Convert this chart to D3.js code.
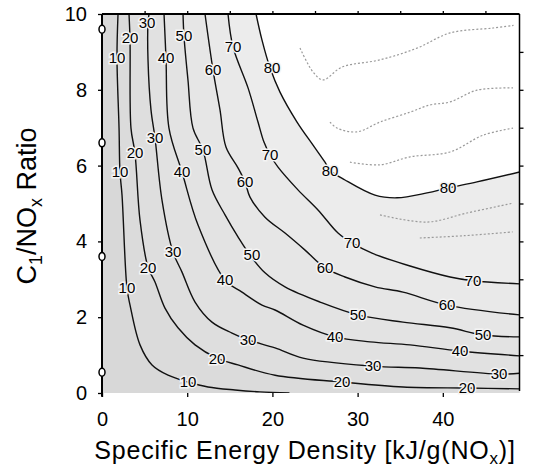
<!DOCTYPE html>
<html>
<head>
<meta charset="utf-8">
<script src="https://cdn.jsdelivr.net/npm/d3@7"></script>
<style>
body { margin: 0; background: #fff; }
svg { font-family: "Liberation Sans", Arial, sans-serif; }
</style>
</head>
<body>
<script>
// contour levels and the points: [energy density, C1/NOx]
var levels = [10, 20, 30, 40, 50, 60, 70, 80];
var line10 = [[1.88,10],[1.76,8.84],[2.0,6.99],[2.11,5.83],[2.35,5.22],[2.93,2.77],[3.29,2.32],[4.46,1.27],[5.87,0.74],[7.75,0.47],[10.09,0.29],[12.44,0.16],[15.61,0.08],[18.54,0.03],[22,0]];
var line20 = [[3.17,10],[3.29,9.31],[3.4,6.99],[3.87,6.33],[4.46,4.56],[5.4,3.32],[6.22,2.93],[7.39,2.24],[8.92,1.72],[10.92,1.27],[13.5,0.92],[15.96,0.74],[20.31,0.47],[28.17,0.29],[35.33,0.16],[42.84,0.13],[49,0.11]];
var line30 = [[5.52,10],[5.4,9.76],[5.4,8.79],[5.75,7.47],[6.22,6.73],[7.04,5.09],[8.33,3.72],[9.39,3.19],[10.92,2.4],[12.91,1.87],[15.26,1.58],[17.14,1.4],[20.31,1.19],[23.59,0.92],[31.81,0.71],[37.32,0.66],[46.6,0.5],[49,0.52]];
var line40 = [[7.28,10],[7.51,8.84],[7.86,6.99],[9.39,5.83],[11.27,4.43],[14.44,2.98],[16.43,2.66],[18.78,2.32],[20.31,2.19],[23.59,1.79],[27.35,1.48],[31.46,1.35],[36.15,1.27],[42.02,1.11],[49,0.98]];
var line50 = [[9.51,10],[9.62,9.42],[10.09,8.26],[10.68,6.99],[11.85,6.41],[12.91,5.36],[14.44,4.7],[15.96,4.12],[17.37,3.64],[19.13,3.17],[21.48,2.8],[25.59,2.4],[30.05,2.06],[35.33,1.87],[40.85,1.72],[44.72,1.53],[49,1.48]];
var line60 = [[12.09,10],[13.03,8.52],[13.85,7.47],[14.55,6.49],[15.96,5.94],[16.78,5.57],[17.37,5.17],[19.13,4.64],[21.48,4.22],[23.83,3.77],[26.17,3.3],[28.52,3.06],[32.04,2.8],[35.33,2.66],[40.49,2.32],[49,2.06]];
var line70 = [[14.79,10],[15.38,9.13],[17.14,8.05],[18.31,7.15],[19.01,6.62],[19.72,6.28],[20.66,5.96],[23.0,5.36],[25.35,4.83],[27.7,4.22],[29.34,3.96],[31.69,3.69],[36.15,3.35],[40.85,3.06],[43.54,2.96],[49,2.88]];
var line80 = [[18.08,10],[18.78,9.31],[19.72,8.58],[20.89,7.94],[22.89,7.15],[24.77,6.54],[26.17,6.09],[26.76,5.88],[28.52,5.62],[32.04,5.22],[34.62,5.15],[38.15,5.28],[40.61,5.41],[44.01,5.57],[49,5.83]];
var contours = [line10, line20, line30, line40, line50, line60, line70, line80];

// faint unlabeled lines in the light upper right part
var faintA = [[23.24,9.1],[24.77,8.47],[25.94,8.26],[28.17,8.6],[32.63,8.79],[36.97,9.1],[40.85,9.5],[45.9,9.63],[48.3,9.7]];
var faintB = [[26.76,7.15],[27.58,6.99],[29.93,6.89],[32.63,7.15],[36.15,7.41],[38.5,7.6],[40.85,7.68],[44.01,7.99],[48.24,8.05]];
var faintC = [[29.1,6.09],[32.63,6.02],[36.15,6.23],[40.85,6.36],[44.7,6.8],[48.24,6.99]];
var faintD = [[32.63,4.7],[38.15,4.51],[42.84,4.75],[48.24,5.01]];
var faintE = [[37.3,4.09],[42.5,4.15],[48.2,4.25]];
var faintLines = [faintA, faintB, faintC, faintD, faintE];

// labels sitting on the lines
var labelLevel = [10,10,10,10, 20,20,20,20,20,20, 30,30,30,30,30,30, 40,40,40,40,40, 50,50,50,50,50, 60,60,60,60, 70,70,70,70, 80,80,80];
var labelX = [1.76,2.11,2.93,10.09, 3.29,3.87,5.4,13.5,28.17,42.84, 5.28,6.22,8.33,17.14,31.81,46.6, 7.51,9.39,14.44,27.35,42.02, 9.62,11.85,17.6,30.05,44.72, 13.03,16.78,26.17,40.49, 15.38,19.72,29.34,43.54, 19.95,26.76,40.61];
var labelY = [8.84,5.83,2.77,0.29, 9.37,6.33,3.32,0.92,0.29,0.13, 9.76,6.73,3.72,1.4,0.71,0.5, 8.84,5.83,2.98,1.48,1.11, 9.42,6.41,3.64,2.06,1.53, 8.52,5.57,3.3,2.32, 9.13,6.28,3.96,2.96, 8.58,5.88,5.41];

// measured points at zero energy density
var pointY = [9.6, 6.6, 3.6, 0.55];

var xTicks = [0, 10, 20, 30, 40];
var yTicks = [0, 2, 4, 6, 8, 10];
var topTicks = [5, 10, 15, 20, 25, 30, 35, 40, 45];
var rightTicks = [1, 2, 3, 4, 5, 6, 7, 8, 9];

var width = 534, height = 470;
var svg = d3.select('body').append('svg')
            .attr('width', width)
            .attr('height', height);

var x = d3.scaleLinear().domain([0, 49]).range([102, 519.5]);
var y = d3.scaleLinear().domain([0, 10]).range([393, 14]);

var line = d3.line()
             .x(d => x(d[0]))
             .y(d => y(d[1]))
             .curve(d3.curveCatmullRom);

svg.append('clipPath').attr('id', 'plot')
   .append('rect')
   .attr('x', x(0)).attr('y', y(10))
   .attr('width', x(49) - x(0)).attr('height', y(0) - y(10));

var plot = svg.append('g').attr('clip-path', 'url(#plot)');

//shading, lightest band first
var shade = d3.scaleLinear().domain([10, 80]).range(['#d8d8d8', '#ececec']);
for (var i = contours.length - 1; i >= 0; i--) {
  var pts = contours[i];
  var last = pts[pts.length - 1];
  var d = line(pts) +
          'L' + x(last[0]) + ',' + y(0) +
          'L' + x(0) + ',' + y(0) +
          'L' + x(0) + ',' + y(10) + 'Z';
  plot.append('path')
      .attr('d', d)
      .attr('fill', shade(levels[i]));
}

//faint lines
plot.selectAll('.faint')
    .data(faintLines)
    .enter()
    .append('path')
    .attr('class', 'faint')
    .attr('d', line)
    .attr('fill', 'none')
    .attr('stroke', '#9a9a9a')
    .attr('stroke-width', 1.2)
    .attr('stroke-dasharray', '2,2');

//contour lines
plot.selectAll('.contour')
    .data(contours)
    .enter()
    .append('path')
    .attr('class', 'contour')
    .attr('d', line)
    .attr('fill', 'none')
    .attr('stroke', '#111')
    .attr('stroke-width', 1.4);

//labels
svg.append('g')
   .selectAll('text')
   .data(labelLevel)
   .enter()
   .append('text')
   .attr('x', (d, i) => x(labelX[i]))
   .attr('y', (d, i) => y(labelY[i]))
   .attr('dy', '0.36em')
   .attr('text-anchor', 'middle')
   .style('font-size', '15px')
   .style('paint-order', 'stroke')
   .attr('stroke', '#f4f4f4')
   .attr('stroke-width', 3)
   .attr('fill', '#000')
   .text(d => d);

//frame
svg.append('line')
   .attr('x1', x(0)).attr('x2', x(49))
   .attr('y1', y(10)).attr('y2', y(10))
   .attr('stroke', '#000').attr('stroke-width', 2);
svg.append('line')
   .attr('x1', x(0)).attr('x2', x(0))
   .attr('y1', y(10)).attr('y2', y(-0.1))
   .attr('stroke', '#000').attr('stroke-width', 2);
svg.append('line')
   .attr('x1', x(49)).attr('x2', x(49))
   .attr('y1', y(10)).attr('y2', y(0.05))
   .attr('stroke', '#000').attr('stroke-width', 1.5);

//points on the zero line
svg.append('g')
   .selectAll('ellipse')
   .data(pointY)
   .enter()
   .append('ellipse')
   .attr('cx', x(0))
   .attr('cy', d => y(d))
   .attr('rx', 3)
   .attr('ry', 4)
   .attr('fill', '#fff')
   .attr('stroke', '#000')
   .attr('stroke-width', 1.5);

//axes
var yAxis = d3.axisLeft(y).tickValues(yTicks).tickSize(4).tickPadding(11);
var gy = svg.append('g')
   .attr('transform', 'translate(' + x(0) + ',0)')
   .call(yAxis);
gy.select('.domain').remove();

var xAxis = d3.axisBottom(x).tickValues(xTicks).tickSize(4).tickPadding(15);
var gx = svg.append('g')
   .attr('transform', 'translate(0,' + y(0) + ')')
   .call(xAxis);
gx.select('.domain').remove();

var gt = svg.append('g')
   .attr('transform', 'translate(0,' + y(10) + ')')
   .call(d3.axisTop(x).tickValues(topTicks).tickSize(3).tickFormat(''));
gt.select('.domain').remove();

var gr = svg.append('g')
   .attr('transform', 'translate(' + x(49) + ',0)')
   .call(d3.axisRight(y).tickValues(rightTicks).tickSize(4).tickFormat(''));
gr.select('.domain').remove();

svg.selectAll('.tick text')
   .style('font-size', '20px')
   .style('font-family', '"Liberation Sans", Arial, sans-serif')
   .attr('fill', '#000');
svg.selectAll('.tick line').attr('stroke', '#000').attr('stroke-width', 1.3);

//axis titles
var xt = svg.append('text')
   .attr('x', 305)
   .attr('y', 459)
   .attr('text-anchor', 'middle')
   .style('font-size', '25px')
   .style('letter-spacing', '0.8px')
   .text('Specific Energy Density [kJ/g(NO');
xt.append('tspan').attr('dy', 5).style('font-size', '17px').text('x');
xt.append('tspan').attr('dy', -5).text(')]');

var yt = svg.append('text')
   .attr('transform', 'translate(36,206) rotate(-90)')
   .attr('text-anchor', 'middle')
   .style('font-size', '27px')
   .text('C');
yt.append('tspan').attr('dy', 6).style('font-size', '18px').text('1');
yt.append('tspan').attr('dy', -6).text('/NO');
yt.append('tspan').attr('dy', 6).style('font-size', '18px').text('x');
yt.append('tspan').attr('dy', -6).text(' Ratio');
</script>
</body>
</html>
